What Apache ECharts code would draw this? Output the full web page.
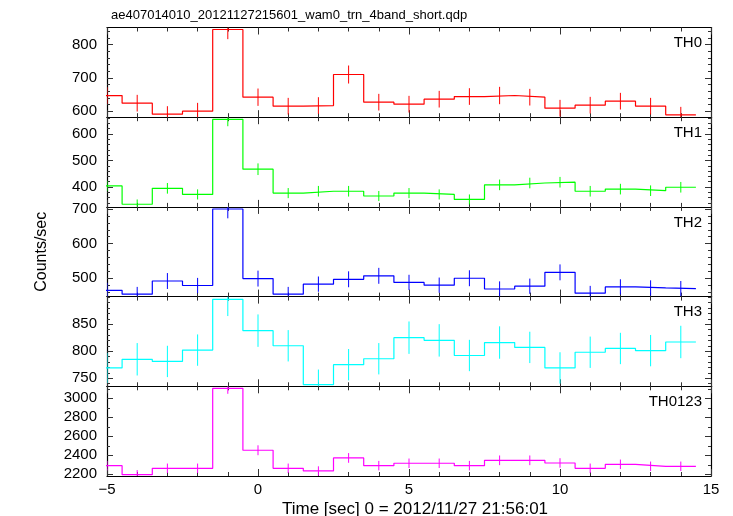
<!DOCTYPE html>
<html>
<head>
<meta charset="utf-8">
<script src="https://cdn.jsdelivr.net/npm/echarts@6/dist/echarts.min.js"></script>
<style>
html,body{margin:0;padding:0;background:#fff;}
#chart{width:733px;height:516px;}
</style>
</head>
<body>
<div id="chart"></div>
<script>
// ---- data ----
const binCenters = [-5,-4,-3,-2,-1,0,1,2,3,4,5,6,7,8,9,10,11,12,13,14];
const binWidth = 1;

const th0     = [647,624,591,600,845,642,615,617,710,627,621,636,644,647,642,609,618,630,615,589];
const th0Err  = [25,25,24,25,29,26,25,25,27,25,25,25,25,26,25,25,25,25,25,24];
const th1     = [404,335,395,372,655,467,377,384,384,366,377,372,353,408,415,418,384,392,386,399];
const th1Err  = [20,18,20,19,26,22,19,20,20,19,19,19,19,20,20,20,20,20,20,20];
const th2     = [465,454,492,479,700,499,454,483,497,507,488,480,500,469,477,517,457,475,472,470];
const th2Err  = [22,21,23,22,27,23,21,22,23,23,22,22,23,22,22,23,21,22,22,22];
const th3     = [769,785,781,802,896,838,810,738,775,786,825,820,792,816,807,769,798,805,801,817];
const th3Err  = [28,30,29,29,31,30,29,28,29,29,30,30,29,30,29,29,29,29,29,30];
const th0123    = [2291,2196,2263,2263,3105,2453,2263,2235,2372,2291,2316,2316,2291,2347,2347,2319,2263,2305,2284,2284];
const th0123Err = [50,48,50,50,58,52,50,49,51,50,50,50,50,51,51,50,50,50,50,50];

const panelNames = ['TH0','TH1','TH2','TH3','TH0123'];
const th0Ticks = [600,700,800];
const th1Ticks = [400,500,600];
const th2Ticks = [500,600,700];
const th3Ticks = [750,800,850];
const th0123Ticks = [2200,2400,2600,2800,3000];
const xTicks = [-5,0,5,10,15];

const titleText = 'ae407014010_20121127215601_wam0_trn_4band_short.qdp';
const xLabel = 'Time [sec] 0 = 2012/11/27 21:56:01';
const yLabel = 'Counts/sec';

// ---- styling / layout ----
const panels = [
  {vals: th0, errs: th0Err, ticks: th0Ticks, color:'#ff0000', min:582, max:851, minor:20},
  {vals: th1, errs: th1Err, ticks: th1Ticks, color:'#00ff00', min:325, max:663, minor:20},
  {vals: th2, errs: th2Err, ticks: th2Ticks, color:'#0000ff', min:447, max:706, minor:20},
  {vals: th3, errs: th3Err, ticks: th3Ticks, color:'#00ffff', min:735, max:901, minor:10},
  {vals: th0123, errs: th0123Err, ticks: th0123Ticks, color:'#ff00ff', min:2182, max:3126, minor:100}
];
const FONT = '"Liberation Sans", Arial, Helvetica, sans-serif';
const gridLeft = 107, gridRight = 22, gridTop0 = 27.5, gridH = 89.7;

const grids = [], xAxes = [], yAxes = [], series = [], titles = [];

titles.push({text: titleText, left: gridLeft - 1, top: 4,
  textStyle:{fontFamily: FONT, fontSize: 13, fontWeight:'normal', color:'#000'}});
titles.push({text: xLabel, left: 277, top: 496,
  textStyle:{fontFamily: FONT, fontSize: 17, fontWeight:'normal', color:'#000'}});

function minorList(min, max, step){
  const out = [];
  for (let v = Math.ceil(min/step)*step; v <= max; v += step) out.push(v);
  return out;
}

panels.forEach((p, i) => {
  const top = gridTop0 + i*gridH;
  grids.push({left: gridLeft, right: gridRight, top: top, height: gridH, containLabel:false});
  const last = i === panels.length - 1;
  const xBase = {
    type:'value', gridIndex:i, min:-5, max:15, interval:5,
    axisLine:{show:true, onZero:false, lineStyle:{color:'#000', width:1.2}},
    axisTick:{show:true, inside:true, length:7, lineStyle:{color:'#333', width:1}},
    minorTick:{show:true, splitNumber:5, length:4, lineStyle:{color:'#333', width:1}},
    splitLine:{show:false}, minorSplitLine:{show:false}
  };
  xAxes.push(Object.assign({}, xBase, {
    position:'bottom',
    axisLabel:{show:last, fontFamily:FONT, fontSize:15, color:'#000', margin:6,
      formatter: v => String(v).replace('-', '\u2212')}
  }));
  xAxes.push(Object.assign({}, xBase, {position:'top', axisLabel:{show:false}}));

  const minors = minorList(p.min, p.max, p.minor);
  const yBase = {type:'value', gridIndex:i, min:p.min, max:p.max,
    splitLine:{show:false}, minorTick:{show:false}};
  // left major
  yAxes.push(Object.assign({}, yBase, {position:'left',
    axisLine:{show:true, onZero:false, lineStyle:{color:'#000', width:1.2}},
    axisTick:{show:true, inside:true, length:6, customValues:p.ticks, lineStyle:{color:'#333'}},
    axisLabel:{show:true, customValues:p.ticks, fontFamily:FONT, fontSize:15, color:'#000', margin:10,
      formatter: v => String(v)},
    name: i === 2 ? yLabel : '', nameLocation:'middle', nameGap:57, nameRotate:90,
    nameTextStyle:{fontFamily:FONT, fontSize:16, color:'#000'}
  }));
  // left minor
  yAxes.push(Object.assign({}, yBase, {position:'left',
    axisLine:{show:false, onZero:false},
    axisTick:{show:true, inside:true, length:3, customValues:minors, lineStyle:{color:'#333'}},
    axisLabel:{show:false}}));
  // right major
  yAxes.push(Object.assign({}, yBase, {position:'right',
    axisLine:{show:true, onZero:false, lineStyle:{color:'#000', width:1.2}},
    axisTick:{show:true, inside:true, length:6, customValues:p.ticks, lineStyle:{color:'#333'}},
    axisLabel:{show:false}}));
  // right minor
  yAxes.push(Object.assign({}, yBase, {position:'right',
    axisLine:{show:false, onZero:false},
    axisTick:{show:true, inside:true, length:3, customValues:minors, lineStyle:{color:'#333'}},
    axisLabel:{show:false}}));

  // step histogram
  const stepData = [];
  binCenters.forEach((c, k) => {
    stepData.push([c - binWidth/2, p.vals[k]]);
    stepData.push([c + binWidth/2, p.vals[k]]);
  });
  series.push({type:'line', xAxisIndex:2*i, yAxisIndex:4*i, data:stepData,
    showSymbol:false, symbol:'none', clip:true, animation:false,
    lineStyle:{color:p.color, width:1.2}});

  // error bars
  const errData = binCenters.map((c, k) => [c, p.vals[k] - p.errs[k], p.vals[k] + p.errs[k]]);
  const yMin = p.min, yMax = p.max, col = p.color;
  series.push({type:'custom', xAxisIndex:2*i, yAxisIndex:4*i, data:errData, clip:true, animation:false,
    renderItem:(params, api) => {
      const x = api.value(0);
      const lo = Math.max(api.value(1), yMin), hi = Math.min(api.value(2), yMax);
      const a = api.coord([x, lo]), b = api.coord([x, hi]);
      return {type:'line', shape:{x1:a[0], y1:a[1], x2:b[0], y2:b[1]},
        style:{stroke:col, lineWidth:1}};
    }});

  titles.push({text: panelNames[i], right: 26, top: top + 3,
    textStyle:{fontFamily:FONT, fontSize:15, fontWeight:'normal', color:'#000'}});
});

const chart = echarts.init(document.getElementById('chart'), null, {renderer:'canvas'});
chart.setOption({
  animation:false,
  backgroundColor:'#fff',
  title: titles,
  grid: grids,
  xAxis: xAxes,
  yAxis: yAxes,
  series: series
});
</script>
</body>
</html>
